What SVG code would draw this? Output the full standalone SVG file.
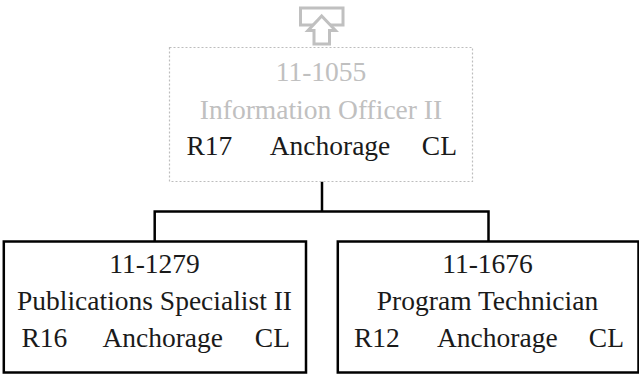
<svg xmlns="http://www.w3.org/2000/svg" width="639" height="374" viewBox="0 0 639 374">
<style>
  .t { font-family: "Liberation Serif", "DejaVu Serif", serif; font-size: 27.5px; fill: #1a1a1a; }
  .g { fill: #c0c0c0; }
  .m { text-anchor: middle; }
  .e { text-anchor: end; }
  .box { fill: #ffffff; stroke: #000000; stroke-width: 2.5; }
  .dbox { fill: #ffffff; stroke: #bdbdbd; stroke-width: 1.2; stroke-dasharray: 2 2; }
  .conn { fill: none; stroke: #000000; stroke-width: 2.5; }
  .icon { fill: #ffffff; stroke: #c0c0c0; stroke-width: 3; }
</style>
<rect width="639" height="374" fill="#ffffff"/>
<g id="connectors">
  <path class="conn" d="M322 181.5 V211.5 M154.7 211.5 H488.5 M154.7 210.3 V241.5 M488.5 210.3 V241.5"/>
</g>
<g id="up-icon">
  <rect class="icon" x="300.5" y="8" width="42.5" height="17"/>
  <path class="icon" d="M321.7 16 L335.5 30.5 L329.5 30.5 L329.5 44 L314 44 L314 30.5 L308 30.5 Z"/>
</g>
<g id="node-11-1055">
  <rect class="dbox" x="169.5" y="47.5" width="303" height="134"/>
  <text class="t g m" x="321" y="81">11-1055</text>
  <text class="t g m" x="321" y="118.5">Information Officer II</text>
  <text class="t" x="186.5" y="154.5">R17</text>
  <text class="t m" x="330" y="154.5">Anchorage</text>
  <text class="t e" x="457" y="154.5">CL</text>
</g>
<g id="node-11-1279">
  <rect class="box" x="3.8" y="241.5" width="302.2" height="131"/>
  <text class="t m" x="154.5" y="272.7">11-1279</text>
  <text class="t m" x="154.5" y="310">Publications Specialist II</text>
  <text class="t" x="21.5" y="346.7">R16</text>
  <text class="t m" x="162.7" y="346.7">Anchorage</text>
  <text class="t e" x="290" y="346.7">CL</text>
</g>
<g id="node-11-1676">
  <rect class="box" x="337.8" y="241.5" width="300.7" height="131"/>
  <text class="t m" x="487.5" y="272.7">11-1676</text>
  <text class="t m" x="487.5" y="310">Program Technician</text>
  <text class="t" x="354" y="346.7">R12</text>
  <text class="t m" x="497.3" y="346.7">Anchorage</text>
  <text class="t e" x="624" y="346.7">CL</text>
</g>
</svg>
